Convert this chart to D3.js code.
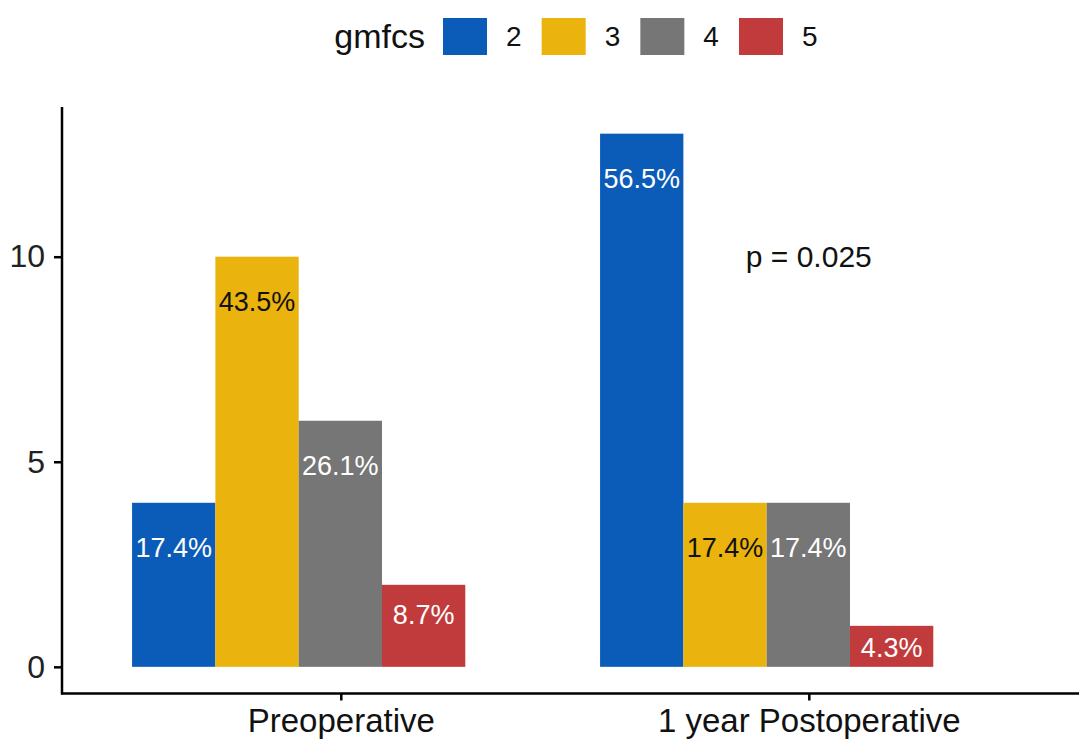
<!DOCTYPE html>
<html>
<head>
<meta charset="utf-8">
<script src="https://cdn.jsdelivr.net/npm/d3@7"></script>
<style>
  html, body { margin: 0; padding: 0; background: #fff; }
  svg { display: block; font-family: "Liberation Sans", Arial, sans-serif; }
</style>
</head>
<body>
<svg id="chart" width="1079" height="742"></svg>
<script>
// Time points on the x axis
const timepoints = ["Preoperative", "1 year Postoperative"];
// GMFCS levels (fill groups)
const levels = ["2", "3", "4", "5"];
// Patient counts per level, one array per time point
const countsPre = [4, 10, 6, 2];
const countsPost = [13, 4, 4, 1];
// Percent labels written on the bars
const labelsPre = ["17.4%", "43.5%", "26.1%", "8.7%"];
const labelsPost = ["56.5%", "17.4%", "17.4%", "4.3%"];
// Y axis ticks
const yTicks = [0, 5, 10];
// Test annotation
const pText = "p = 0.025";
const pPos = { time: 2, value: 10 };

const colors = ["#0B5CB8", "#EAB30D", "#767676", "#C13B3C"];
const labelColors = ["#ffffff", "#111111", "#ffffff", "#ffffff"];

const rows = [];
[countsPre, countsPost].forEach((arr, ti) => {
  const labs = ti === 0 ? labelsPre : labelsPost;
  arr.forEach((v, li) => rows.push({ t: ti + 1, level: levels[li], li, value: v, label: labs[li] }));
});

const svg = d3.select("#chart");

// Scales (x in category units, 1 and 2)
const x = d3.scaleLinear().domain([0.4, 2.6]).range([60, 60 + 2.2 * 468]);
const y = d3.scaleLinear().domain([-0.65, 13.65]).range([693.5, 107]);
// dodge within a time point (units relative to category centre)
const dodge = d3.scaleBand().domain(levels).range([-0.446, 0.266]).padding(0);
const color = d3.scaleOrdinal().domain(levels).range(colors);

// Bars
svg.append("g").selectAll("rect").data(rows).join("rect")
  .attr("x", d => x(d.t + dodge(d.level)))
  .attr("width", d => x(d.t + dodge(d.level) + dodge.bandwidth()) - x(d.t + dodge(d.level)))
  .attr("y", d => y(d.value))
  .attr("height", d => y(0) - y(d.value))
  .attr("fill", d => color(d.level));

// Value labels inside the bar tops
svg.append("g").selectAll("text").data(rows).join("text")
  .attr("x", d => x(d.t + dodge(d.level) + dodge.bandwidth() / 2))
  .attr("y", d => y(d.value - Math.min(1.1, 0.35 + 0.19 * d.value)))
  .attr("dy", "0.35em")
  .attr("text-anchor", "middle")
  .attr("font-size", 27)
  .attr("fill", d => labelColors[d.li])
  .text(d => d.label);

// p-value annotation
svg.append("text")
  .attr("x", x(pPos.time))
  .attr("y", y(pPos.value))
  .attr("dy", "0.35em")
  .attr("text-anchor", "middle")
  .attr("font-size", 30)
  .attr("fill", "#111")
  .text(pText);

// Y axis
const yAxis = svg.append("g").attr("transform", "translate(62,0)")
  .call(d3.axisLeft(y).tickValues(yTicks).tickSize(8).tickPadding(9).tickFormat(d3.format("d")));
yAxis.select(".domain").attr("d", `M0,${y.range()[0] + 1}V${y.range()[1]}`);
yAxis.selectAll("path, line").attr("stroke", "#000").attr("stroke-width", 2.5);
yAxis.selectAll("text").attr("font-size", 32).attr("fill", "#222").attr("font-family", "Liberation Sans, Arial, sans-serif");

// X axis
const xAxis = svg.append("g").attr("transform", `translate(0,${y.range()[0]})`)
  .call(d3.axisBottom(x).tickValues([1, 2]).tickSize(7).tickPadding(8).tickFormat(d => timepoints[d - 1]));
xAxis.select(".domain").attr("d", `M61,0H1079`);
xAxis.selectAll("path, line").attr("stroke", "#000").attr("stroke-width", 2.5);
xAxis.selectAll("text").attr("font-size", 33).attr("fill", "#111").attr("font-family", "Liberation Sans, Arial, sans-serif");

// Legend
const legend = svg.append("g");
legend.append("text")
  .attr("x", 425).attr("y", 36).attr("dy", "0.35em")
  .attr("text-anchor", "end")
  .attr("font-size", 34).attr("fill", "#111")
  .text("gmfcs");
const keyX = d3.scalePoint().domain(levels).range([443, 739]);
const keys = legend.selectAll("g.key").data(levels).join("g").attr("class", "key")
  .attr("transform", d => `translate(${keyX(d)},0)`);
keys.append("rect").attr("x", 0).attr("y", 18).attr("width", 44).attr("height", 37)
  .attr("fill", d => color(d));
keys.append("text").attr("x", 63).attr("y", 36).attr("dy", "0.35em")
  .attr("text-anchor", "start")
  .attr("font-size", 28).attr("fill", "#111")
  .text(d => d);
</script>
</body>
</html>
